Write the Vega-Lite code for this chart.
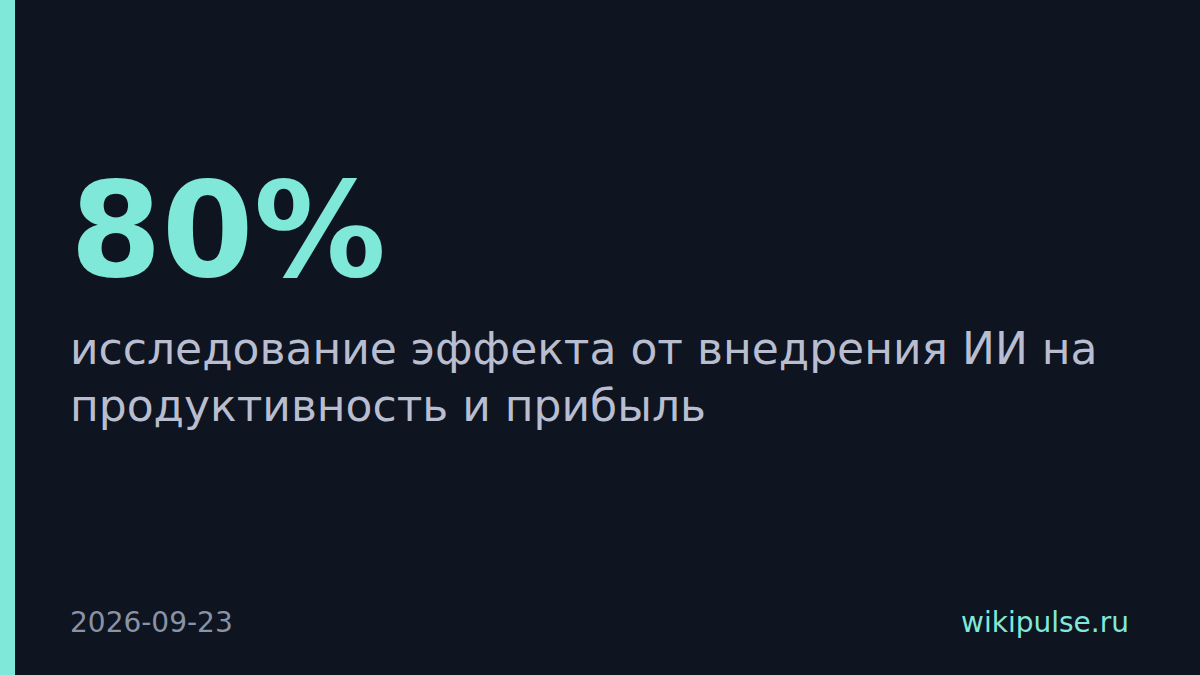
{
  "$schema": "https://vega.github.io/schema/vega-lite/v6.json",
  "width": 1200,
  "height": 675,
  "autosize": {"type": "fit", "contains": "padding"},
  "padding": 0,
  "background": "#0e1420",
  "config": {"view": {"stroke": null}},
  "datasets": {
    "bar": [{"x0": 0, "x1": 15, "y0": 0, "y1": 675}],
    "stat": [{"label": "80%"}],
    "desc": [{"label": "исследование эффекта от внедрения ИИ на\nпродуктивность и прибыль"}],
    "date": [{"label": "2026-09-23"}],
    "site": [{"label": "wikipulse.ru"}]
  },
  "layer": [
    {
      "data": {"name": "bar"},
      "mark": {"type": "rect", "color": "#80e8d9"},
      "encoding": {
        "x": {"field": "x0", "type": "quantitative", "scale": {"domain": [0, 1200], "nice": false}, "axis": null},
        "x2": {"field": "x1"},
        "y": {"field": "y0", "type": "quantitative", "scale": {"domain": [0, 675], "nice": false, "reverse": true}, "axis": null},
        "y2": {"field": "y1"}
      }
    },
    {
      "data": {"name": "stat"},
      "mark": {"type": "text", "font": "DejaVu Sans", "fontWeight": "bold", "fontSize": 132, "color": "#80e8d9", "align": "left", "baseline": "alphabetic"},
      "encoding": {
        "x": {"datum": 70, "type": "quantitative"},
        "y": {"datum": 276, "type": "quantitative"},
        "text": {"field": "label"}
      }
    },
    {
      "data": {"name": "desc"},
      "mark": {"type": "text", "font": "DejaVu Sans", "fontSize": 44, "lineHeight": 57, "lineBreak": "\n", "color": "#b8bdd0", "align": "left", "baseline": "alphabetic"},
      "encoding": {
        "x": {"datum": 70, "type": "quantitative"},
        "y": {"datum": 364, "type": "quantitative"},
        "text": {"field": "label"}
      }
    },
    {
      "data": {"name": "date"},
      "mark": {"type": "text", "font": "DejaVu Sans", "fontSize": 28, "color": "#8a92a6", "align": "left", "baseline": "alphabetic"},
      "encoding": {
        "x": {"datum": 70, "type": "quantitative"},
        "y": {"datum": 632, "type": "quantitative"},
        "text": {"field": "label"}
      }
    },
    {
      "data": {"name": "site"},
      "mark": {"type": "text", "font": "DejaVu Sans", "fontSize": 28, "color": "#80e8d9", "align": "right", "baseline": "alphabetic"},
      "encoding": {
        "x": {"datum": 1129, "type": "quantitative"},
        "y": {"datum": 632, "type": "quantitative"},
        "text": {"field": "label"}
      }
    }
  ]
}
